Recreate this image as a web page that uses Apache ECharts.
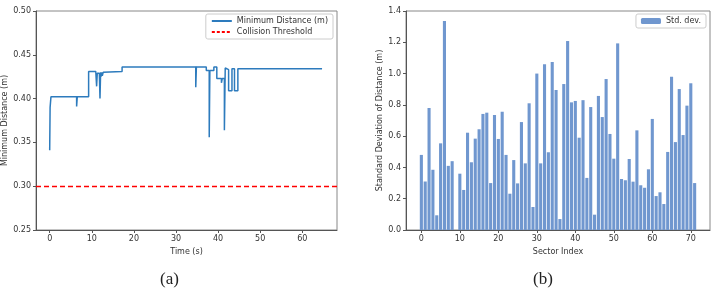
<!DOCTYPE html>
<html>
<head>
<meta charset="utf-8">
<script src="https://cdn.jsdelivr.net/npm/echarts@6/dist/echarts.min.js"></script>
<style>
  html, body { margin: 0; padding: 0; background: #fff; }
  #main { width: 716px; height: 299px; }
</style>
</head>
<body>
<div id="main"></div>
<script>
// (a) minimum distance over time, step changes
var timeS = [0, 0.1, 0.3, 6.4, 6.55, 9.25, 10.95, 11.15, 11.3, 11.8, 11.95, 12.1, 12.2, 12.4, 12.5, 12.7, 12.8,
  17.2, 34.7, 34.85, 37.2, 37.9, 38.05, 39.0, 39.7, 40.8, 41.0, 41.5, 41.7, 41.9, 42.5, 43.3, 43.9, 44.7, 64.7];
var minDist = [0.341, 0.390, 0.402, 0.391, 0.402, 0.431, 0.429, 0.414, 0.429, 0.431, 0.400, 0.430, 0.425, 0.430, 0.426,
  0.430, 0.431, 0.436, 0.413, 0.436, 0.432, 0.356, 0.432, 0.436, 0.423, 0.418, 0.423, 0.364, 0.435, 0.433, 0.409,
  0.434, 0.409, 0.434, 0.434];
var threshold = 0.30;
var timeTicks = [0, 10, 20, 30, 40, 50, 60];

// (b) std dev per sector
var stdDev = [0.48, 0.31, 0.78, 0.385, 0.094, 0.554, 1.336, 0.41, 0.44, 0, 0.36, 0.256, 0.622, 0.433, 0.584, 0.644,
  0.742, 0.75, 0.30, 0.735, 0.582, 0.756, 0.48, 0.232, 0.447, 0.298, 0.69, 0.426, 0.81, 0.147, 1.0, 0.426, 1.06, 0.497,
  1.074, 0.895, 0.07, 0.933, 1.208, 0.816, 0.825, 0.59, 0.83, 0.333, 0.786, 0.098, 0.857, 0.722, 0.965, 0.614, 0.456,
  1.193, 0.326, 0.318, 0.454, 0.309, 0.637, 0.286, 0.27, 0.388, 0.71, 0.217, 0.241, 0.166, 0.499, 0.98, 0.562, 0.901,
  0.607, 0.795, 0.938, 0.30];
var sectorTicks = [0, 10, 20, 30, 40, 50, 60, 70];

var lineData = timeS.map(function (t, i) { return [t, minDist[i]]; });
var barData = stdDev.map(function (v, i) { return [i, v]; });

var font = 'DejaVu Sans';
var axisCol = '#555';
var fs = 8;
var labelStyle = { color: '#333', fontSize: fs, fontFamily: font };
var nameStyle = { color: '#333', fontSize: fs, fontFamily: font };
var axisLine = { show: true, onZero: false, lineStyle: { color: axisCol } };

var chart = echarts.init(document.getElementById('main'));
var option = {
  animation: false,
  grid: [
    { left: 36, top: 11, width: 301, height: 219, show: true, borderColor: '#888', borderWidth: 1 },
    { left: 406, top: 11, width: 304, height: 219, show: true, borderColor: '#888', borderWidth: 1 }
  ],
  xAxis: [{
    gridIndex: 0, type: 'value', min: -3.25, max: 68.25,
    name: 'Time (s)', nameLocation: 'middle', nameGap: 17, nameTextStyle: nameStyle,
    axisLine: axisLine,
    axisTick: { show: true, length: 3, customValues: timeTicks, lineStyle: { color: axisCol } },
    axisLabel: Object.assign({ customValues: timeTicks, margin: 5 }, labelStyle),
    splitLine: { show: false }
  }, {
    gridIndex: 1, type: 'value', min: -3.99, max: 74.99,
    name: 'Sector Index', nameLocation: 'middle', nameGap: 17, nameTextStyle: nameStyle,
    axisLine: axisLine,
    axisTick: { show: true, length: 3, customValues: sectorTicks, lineStyle: { color: axisCol } },
    axisLabel: Object.assign({ customValues: sectorTicks, margin: 5 }, labelStyle),
    splitLine: { show: false }
  }],
  yAxis: [{
    gridIndex: 0, type: 'value', min: 0.25, max: 0.50, interval: 0.05,
    name: 'Minimum Distance (m)', nameLocation: 'middle', nameGap: 22, nameTextStyle: nameStyle,
    axisLine: axisLine,
    axisTick: { show: true, length: 3, lineStyle: { color: axisCol } },
    axisLabel: Object.assign({ margin: 5, formatter: function (v) { return v.toFixed(2); } }, labelStyle),
    splitLine: { show: false }
  }, {
    gridIndex: 1, type: 'value', min: 0, max: 1.4, interval: 0.2,
    name: 'Standard Deviation of Distance (m)', nameLocation: 'middle', nameGap: 16, nameTextStyle: nameStyle,
    axisLine: axisLine,
    axisTick: { show: true, length: 3, lineStyle: { color: axisCol } },
    axisLabel: Object.assign({ margin: 5, formatter: function (v) { return v.toFixed(1); } }, labelStyle),
    splitLine: { show: false }
  }],
  legend: [{
    data: ['Minimum Distance (m)', 'Collision Threshold'],
    orient: 'vertical', right: 383, top: 14,
    itemWidth: 20, itemHeight: 8, itemGap: 3,
    padding: [3, 5, 3, 5],
    itemStyle: { opacity: 0 },
    borderColor: '#ccc', borderWidth: 1, borderRadius: 2, backgroundColor: '#fff',
    textStyle: { color: '#333', fontSize: fs, fontFamily: font }
  }, {
    data: ['Std. dev.'],
    right: 10, top: 14,
    itemWidth: 20, itemHeight: 6,
    padding: [3, 5, 3, 5],
    borderColor: '#ccc', borderWidth: 1, borderRadius: 2, backgroundColor: '#fff',
    textStyle: { color: '#333', fontSize: fs, fontFamily: font }
  }],
  series: [{
    name: 'Minimum Distance (m)', type: 'line', xAxisIndex: 0, yAxisIndex: 0,
    data: lineData, step: 'end', symbol: 'none',
    lineStyle: { color: '#2d7bbd', width: 1.5 }, itemStyle: { color: '#2d7bbd' }
  }, {
    name: 'Collision Threshold', type: 'line', xAxisIndex: 0, yAxisIndex: 0,
    data: [], symbol: 'none',
    lineStyle: { color: '#ff0000', width: 1.3, type: [3, 2] }, itemStyle: { color: '#ff0000' },
    markLine: {
      silent: true, symbol: 'none', label: { show: false },
      lineStyle: { color: '#ff0000', width: 1.3, type: [5, 3] },
      data: [{ yAxis: threshold }]
    }
  }, {
    name: 'Std. dev.', type: 'bar', xAxisIndex: 1, yAxisIndex: 1,
    data: barData, barWidth: 3.1,
    itemStyle: { color: '#7097cf' }
  }],
  graphic: [
    { type: 'text', left: 160, top: 271, style: { text: '(a)', font: '17px "Liberation Serif"', fill: '#222' } },
    { type: 'text', left: 533, top: 271, style: { text: '(b)', font: '17px "Liberation Serif"', fill: '#222' } }
  ]
};
chart.setOption(option);
</script>
</body>
</html>
